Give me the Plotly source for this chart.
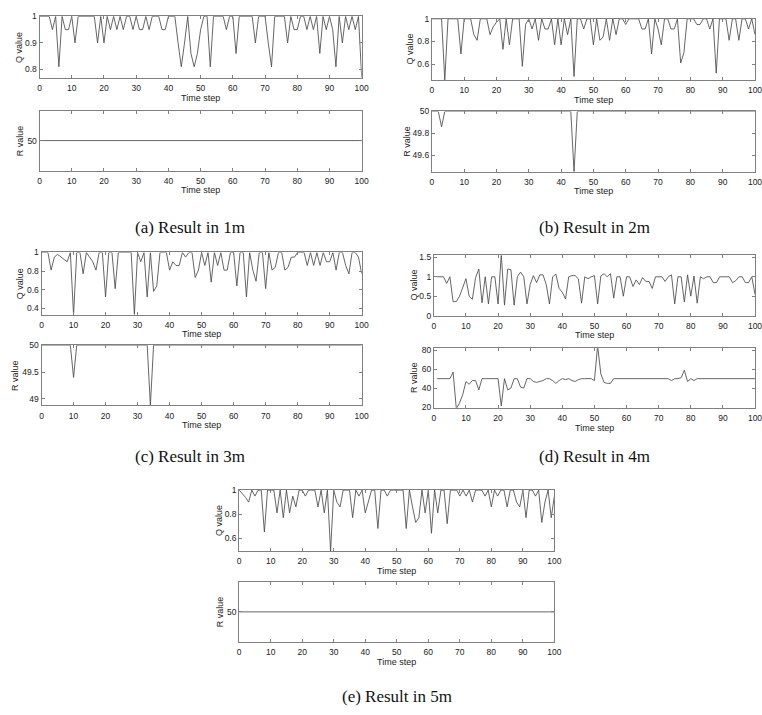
import plotly.graph_objects as go

W, H = 762, 715

# ---------------- data ----------------
t_0_100 = list(range(0, 101))
t_1_100 = list(range(1, 101))

q_1m = [1, 1, 1, 1, 0.95, 1, 0.81, 1, 0.95, 0.95, 1, 0.9, 1, 1, 1, 1, 1, 1, 0.9, 1,
        0.9, 1, 0.95, 1, 0.95, 1, 0.95, 1, 1, 0.95, 1, 0.95, 0.95, 1, 0.95, 1, 1, 1, 0.95, 0.95,
        1, 1, 1, 0.9, 0.81, 0.9, 1, 0.86, 0.81, 0.86, 0.95, 1, 1, 0.81, 1, 1, 1, 1, 0.95, 1,
        1, 0.86, 1, 1, 1, 1, 1, 0.9, 1, 1, 1, 0.9, 0.81, 1, 1, 1, 1, 0.9, 1, 0.95,
        0.95, 1, 1, 0.95, 1, 0.95, 1, 0.86, 1, 0.95, 1, 0.95, 0.81, 1, 0.9, 1, 0.95, 1, 0.95, 1,
        0.77]
r_1m_t = [0, 100]
r_1m = [50, 50]

q_2m = [1, 1, 1, 1, 0.46, 1, 1, 1, 1, 0.69, 1, 1, 1, 0.86, 0.81, 1, 1, 1, 0.86, 0.93,
        0.97, 1, 0.73, 1, 0.77, 1, 1, 1, 0.58, 0.95, 1, 0.91, 1, 0.81, 1, 0.91, 0.91, 1, 0.77, 1,
        0.77, 1, 0.86, 1, 0.49, 1, 1, 0.91, 1, 1, 0.77, 1, 0.81, 0.84, 1, 0.81, 1, 0.86, 1, 1,
        0.95, 1, 1, 1, 1, 0.91, 0.91, 1, 0.69, 1, 0.91, 0.77, 1, 1, 0.91, 0.91, 1, 0.61, 0.7, 1,
        1, 1, 0.95, 0.95, 1, 1, 0.91, 1, 0.52, 1, 1, 1, 0.81, 1, 1, 0.81, 1, 1, 0.91, 1,
        0.86]
r_2m_t = [0, 2, 3, 4, 43, 44, 45, 100]
r_2m = [50, 50, 49.86, 50, 50, 49.45, 50, 50]

q_3m = [1, 1, 1, 0.81, 0.95, 0.98, 0.95, 0.92, 0.9, 1, 0.33, 1, 1, 0.77, 1, 0.95, 0.9, 0.81, 1, 1,
        0.52, 1, 1, 0.61, 1, 1, 1, 1, 1, 0.33, 1, 0.9, 1, 0.52, 1, 0.58, 0.64, 1, 1, 1,
        0.81, 0.9, 0.86, 0.86, 1, 0.95, 1, 1, 0.73, 0.81, 1, 0.86, 1, 0.68, 1, 0.86, 1, 0.81, 0.81, 1,
        1, 0.64, 1, 1, 0.52, 1, 0.81, 0.69, 1, 1, 0.61, 1, 0.81, 0.84, 1, 1, 0.81, 0.84, 0.95, 0.95,
        1, 1, 1, 0.86, 1, 0.86, 1, 0.86, 1, 0.9, 0.9, 1, 0.81, 1, 1, 0.86, 0.77, 1, 1, 0.95,
        0.77]
r_3m_t = [0, 9, 10, 11, 33, 34, 35, 100]
r_3m = [50, 50, 49.4, 50, 50, 48.88, 50, 50]

q_4m = [1, 1, 1, 0.83, 1, 0.36, 0.36, 0.5, 0.7, 0.95, 0.5, 0.42, 0.98, 1.2, 0.33, 1, 0.3, 1, 1, 0.3,
        1.58, 0.27, 1.2, 1.18, 0.27, 1, 1.12, 1, 0.3, 0.8, 1.03, 0.85, 1.05, 1.05, 0.8, 0.3, 1, 1.07, 0.7, 0.6,
        0.43, 1, 1.03, 1.03, 0.95, 0.32, 1, 0.95, 1, 1.03, 0.3, 1.02, 1.08, 1, 1.08, 0.45, 1, 1, 0.5, 1,
        1, 0.75, 0.92, 0.8, 0.98, 0.88, 0.88, 0.7, 1, 1, 1, 0.88, 1, 1.05, 0.3, 1, 1, 0.35, 1.05, 0.5,
        1.02, 0.32, 1, 0.95, 1, 1, 0.85, 0.85, 1, 1, 1, 1, 0.85, 0.9, 1, 1, 0.85, 0.85, 1, 0.55]
r_4m = [50, 50, 50, 50, 50, 57, 18, 24, 33, 47, 44, 48, 48, 38, 50, 50, 50, 50, 50, 50,
        21, 50, 38, 40, 50, 50, 41, 40, 50, 50, 47, 46, 47, 48, 50, 50, 48, 45, 48, 50,
        49, 50, 48, 47, 49, 50, 50, 50, 50, 48, 85, 55, 46, 45, 45, 50, 50, 50, 50, 50,
        50, 50, 50, 50, 50, 50, 50, 50, 50, 50, 50, 50, 50, 48, 50, 50, 51, 59, 47, 50,
        48, 50, 50, 50, 50, 50, 50, 50, 50, 50, 50, 50, 50, 50, 50, 50, 50, 50, 50, 50]

q_5m = [1, 0.97, 0.94, 0.9, 1, 0.95, 1, 1, 0.65, 1, 1, 1, 0.81, 1, 0.77, 1, 0.81, 0.95, 0.86, 1,
        1, 0.95, 1, 1, 1, 0.86, 1, 0.81, 1, 0.49, 1, 0.9, 0.86, 1, 1, 1, 0.77, 1, 0.95, 1,
        0.81, 0.9, 1, 1, 0.68, 1, 1, 0.95, 1, 1, 1, 1, 1, 0.68, 1, 0.86, 0.73, 0.77, 1, 0.81,
        1, 0.64, 1, 0.81, 1, 1, 0.72, 1, 1, 1, 0.95, 1, 0.95, 1, 0.9, 1, 1, 1, 0.95, 1,
        0.86, 1, 0.95, 1, 1, 0.86, 1, 1, 0.9, 0.86, 1, 0.77, 1, 1, 0.95, 1, 0.73, 0.9, 1, 0.77,
        0.95]
r_5m_t = [0, 100]
r_5m = [50, 50]

x_ticks = [0, 10, 20, 30, 40, 50, 60, 70, 80, 90, 100]
captions = ["(a) Result in 1m", "(b) Result in 2m", "(c) Result in 3m",
            "(d) Result in 4m", "(e) Result in 5m"]

# ---------------- layout (pixels) ----------------
# (x, y, yrange, ytickvals, yticktext, left, right, top, bottom, ytitle, title_dx)
panels = [
    (t_0_100, q_1m, [0.768, 1.0], [0.8, 0.9, 1], ["0.8", "0.9", "1"], 38, 364, 11.5, 74, "Q value", 21),
    (r_1m_t, r_1m, [49.0, 51.0], [50], ["50"], 38, 364, 107, 168, "R value", 20),
    (t_0_100, q_2m, [0.46, 1.0], [0.6, 0.8, 1], ["0.6", "0.8", "1"], 435, 762, 14, 76, "Q value", 22),
    (r_2m_t, r_2m, [49.45, 50.0], [49.6, 49.8, 50], ["49.6", "49.8", "50"], 435, 762, 108, 169, "R value", 26),
    (t_0_100, q_3m, [0.33, 1.0], [0.4, 0.6, 0.8, 1], ["0.4", "0.6", "0.8", "1"], 40, 364, 251, 314, "Q value", 22),
    (r_3m_t, r_3m, [48.88, 50.0], [49, 49.5, 50], ["49", "49.5", "50"], 40, 364, 345, 406, "R value", 27),
    (t_1_100, q_4m, [0.0, 1.55], [0, 0.5, 1, 1.5], ["0", "0.5", "1", "1.5"], 437, 762, 254, 315, "Q value", 21),
    (t_1_100, r_4m, [19, 82.5], [20, 40, 60, 80], ["20", "40", "60", "80"], 437, 762, 348, 408.5, "R value", 20),
    (t_0_100, q_5m, [0.49, 1.0], [0.6, 0.8, 1], ["0.6", "0.8", "1"], 240, 559, 492, 554, "Q value", 21),
    (r_5m_t, r_5m, [49.0, 51.0], [50], ["50"], 240, 559, 585, 646, "R value", 20),
]
caption_pos = [(190, 226), (600, 226), (190, 458), (600, 458), (400, 701)]

fig = go.Figure()
annotations = []
layout = dict(width=W, height=H, margin=dict(l=0, r=0, t=0, b=0),
              paper_bgcolor="white", plot_bgcolor="white", showlegend=False,
              font=dict(family="Liberation Sans, Arial, sans-serif", size=9, color="#222"))

AX = "#808080"
for i, (xs, ys, yr, tv, tt, l, r, tp, bt, ytitle, dx) in enumerate(panels):
    n = i + 1
    xa = "x" if n == 1 else f"x{n}"
    ya = "y" if n == 1 else f"y{n}"
    fig.add_trace(go.Scatter(x=xs, y=ys, mode="lines", xaxis=xa, yaxis=ya,
                             line=dict(color="#4a4a4a", width=0.85), hoverinfo="skip"))
    common = dict(showgrid=False, zeroline=False, showline=True, linecolor=AX, linewidth=1,
                  mirror="ticks", ticks="inside", ticklen=3, tickcolor=AX,
                  ticklabeloverflow="allow", tickfont=dict(size=8.5, color="#222"))
    layout["xaxis" if n == 1 else f"xaxis{n}"] = dict(
        domain=[l / W, r / W], anchor=ya, range=[0, 100], tickvals=x_ticks,
        ticktext=[str(v) for v in x_ticks], ticklabelstandoff=2, **common)
    layout["yaxis" if n == 1 else f"yaxis{n}"] = dict(
        domain=[1 - bt / H, 1 - tp / H], anchor=xa, range=yr, tickvals=tv, ticktext=tt,
        ticklabelstandoff=0, **common)
    annotations.append(dict(x=(l + r) / 2 / W, y=1 - (bt + 20) / H, xref="paper", yref="paper",
                            text="Time step", showarrow=False, font=dict(size=9, color="#222"),
                            xanchor="center", yanchor="middle"))
    annotations.append(dict(x=(l - dx) / W, y=1 - (tp + bt) / 2 / H, xref="paper", yref="paper",
                            text=ytitle, textangle=-90, showarrow=False,
                            font=dict(size=9, color="#222"), xanchor="center", yanchor="middle"))

for text, (cx, cy) in zip(captions, caption_pos):
    annotations.append(dict(x=cx / W, y=1 - cy / H, xref="paper", yref="paper", text=text,
                            showarrow=False, xanchor="center", yanchor="middle",
                            font=dict(family="Liberation Serif, Times New Roman, serif", size=17, color="#111")))

layout["annotations"] = annotations
fig.update_layout(**layout)
fig.write_html("out.html")
